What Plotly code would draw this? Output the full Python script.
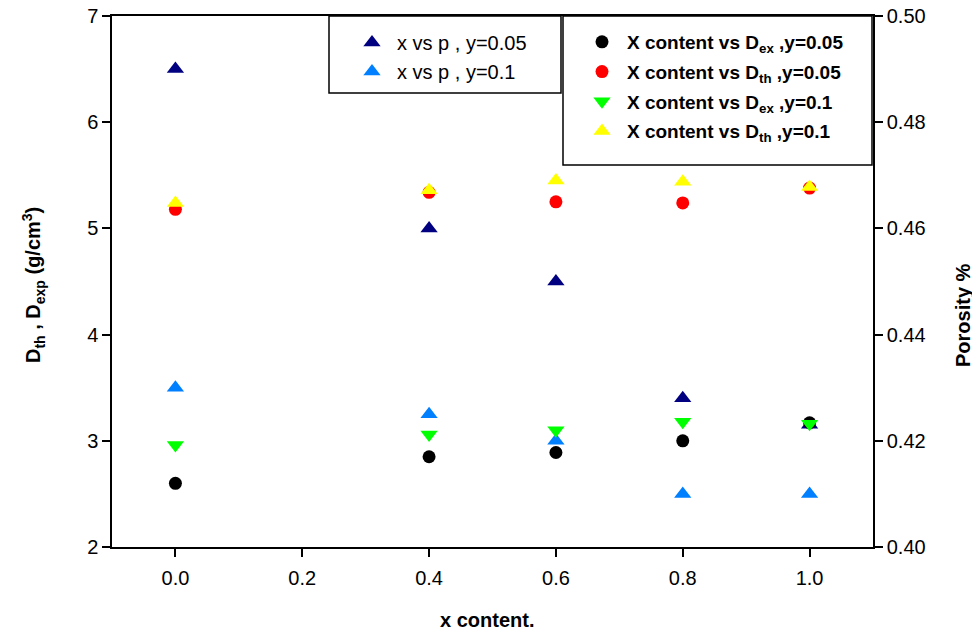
import plotly.graph_objects as go

x_content = [0.0, 0.4, 0.6, 0.8, 1.0]

# Density (left axis, g/cm^3)
dex_005 = [2.60, 2.85, 2.89, 3.00, 3.17]
dth_005 = [5.18, 5.34, 5.25, 5.24, 5.38]
dex_01 = [2.96, 3.06, 3.10, 3.18, 3.16]
dth_01 = [5.24, 5.36, 5.45, 5.44, 5.39]

# Porosity (right axis)
por_005 = [0.490, 0.460, 0.450, 0.428, 0.423]
por_01 = [0.430, 0.425, 0.420, 0.410, 0.410]

x_ticks = [0.0, 0.2, 0.4, 0.6, 0.8, 1.0]
x_tick_text = ["0.0", "0.2", "0.4", "0.6", "0.8", "1.0"]
left_ticks = [2, 3, 4, 5, 6, 7]
right_ticks = [0.40, 0.42, 0.44, 0.46, 0.48, 0.50]
right_tick_text = ["0.40", "0.42", "0.44", "0.46", "0.48", "0.50"]

FONT = "Liberation Sans, Arial, sans-serif"
OFF = 8  # page body margin
W, H = 980 - OFF, 633 - OFF
SL, ST, SR, SB = 112, 16, 873, 547  # screen position of the plot area
L, T = SL - OFF, ST - OFF
PW, PH = SR - SL, SB - ST
R, B = W - L - PW, H - T - PH


def px(xs):
    return (xs - SL) / PW


def py(ys):
    return 1 - (ys - ST) / PH


fig = go.Figure()

# porosity (drawn first, beneath density markers)
fig.add_trace(go.Scatter(
    x=x_content, y=por_005, mode="markers", yaxis="y", legend="legend2",
    name="x vs p , y=0.05", legendgroup="p1",
    marker=dict(symbol="triangle-up", size=15, color="#000080", line=dict(width=0))))
fig.add_trace(go.Scatter(
    x=x_content, y=por_01, mode="markers", yaxis="y", legend="legend2",
    name="x vs p , y=0.1", legendgroup="p2",
    marker=dict(symbol="triangle-up", size=15, color="#0080FF", line=dict(width=0))))

# density
fig.add_trace(go.Scatter(
    x=x_content, y=dex_005, mode="markers", yaxis="y2", legend="legend",
    name="X content vs D<sub>ex</sub> ,y=0.05", legendgroup="d1",
    marker=dict(symbol="circle", size=13, color="#000000", line=dict(width=0))))
fig.add_trace(go.Scatter(
    x=x_content, y=dth_005, mode="markers", yaxis="y2", legend="legend",
    name="X content vs D<sub>th</sub> ,y=0.05", legendgroup="d2",
    marker=dict(symbol="circle", size=13, color="#FF0000", line=dict(width=0))))
fig.add_trace(go.Scatter(
    x=x_content, y=dex_01, mode="markers", yaxis="y2", legend="legend",
    name="X content vs D<sub>ex</sub> ,y=0.1", legendgroup="d3",
    marker=dict(symbol="triangle-down", size=15, color="#00FF00", line=dict(width=0))))
fig.add_trace(go.Scatter(
    x=x_content, y=dth_01, mode="markers", yaxis="y2", legend="legend",
    name="X content vs D<sub>th</sub> ,y=0.1", legendgroup="d4",
    marker=dict(symbol="triangle-up", size=15, color="#FFFF00", line=dict(width=0))))

axis_common = dict(
    ticks="outside", ticklen=8, tickwidth=1.5, tickcolor="black",
    showline=True, linecolor="black", linewidth=1.5,
    showgrid=False, zeroline=False, automargin=False,
    ticklabeloverflow="allow",
    tickfont=dict(size=20, family=FONT),
)

fig.update_layout(
    width=W, height=H,
    margin=dict(l=L, r=R, t=T, b=B),
    paper_bgcolor="white", plot_bgcolor="white",
    font=dict(family=FONT, size=20, color="black"),
    showlegend=True,
    xaxis=dict(range=[-0.1, 1.1], tickvals=x_ticks, ticktext=x_tick_text,
               mirror=True, ticklabelstandoff=4, **axis_common),
    yaxis=dict(range=[0.40, 0.50], tickvals=right_ticks, ticktext=right_tick_text,
               side="right", **axis_common),
    yaxis2=dict(range=[2, 7], tickvals=left_ticks, overlaying="y", side="left",
                **axis_common),
    legend=dict(
        x=px(577), y=py(23), xanchor="left", yanchor="top",
        bgcolor="rgba(0,0,0,0)", borderwidth=0,
        font=dict(size=19, weight="bold", family=FONT),
        itemsizing="trace", tracegroupgap=2, itemwidth=40,
    ),
    legend2=dict(
        x=px(347), y=py(23), xanchor="left", yanchor="top",
        bgcolor="rgba(0,0,0,0)", borderwidth=0,
        font=dict(size=20, family=FONT),
        itemsizing="trace", tracegroupgap=0, itemwidth=40,
    ),
    shapes=[
        dict(type="rect", xref="paper", yref="paper",
             x0=px(329), x1=px(561), y0=py(93), y1=py(16),
             line=dict(color="black", width=1.5), fillcolor="white", layer="below"),
        dict(type="rect", xref="paper", yref="paper",
             x0=px(563), x1=px(872), y0=py(165), y1=py(16),
             line=dict(color="black", width=1.5), fillcolor="white", layer="below"),
    ],
    annotations=[
        dict(text="x content.", xref="paper", yref="paper", x=px(487), y=py(620),
             xanchor="center", yanchor="middle",
             showarrow=False, font=dict(size=20, weight="bold", family=FONT)),
        dict(text="D<sub>th</sub> , D<sub>exp</sub> (g/cm<sup>3</sup>)",
             xref="paper", yref="paper", x=px(33), y=py(285), textangle=-90,
             xanchor="center", yanchor="middle",
             showarrow=False, font=dict(size=20, weight="bold", family=FONT)),
        dict(text="Porosity %", xref="paper", yref="paper", x=px(963), y=py(315),
             textangle=-90, xanchor="center", yanchor="middle", showarrow=False,
             font=dict(size=20, weight="bold", family=FONT)),
    ],
)

fig.write_html("out.html")
